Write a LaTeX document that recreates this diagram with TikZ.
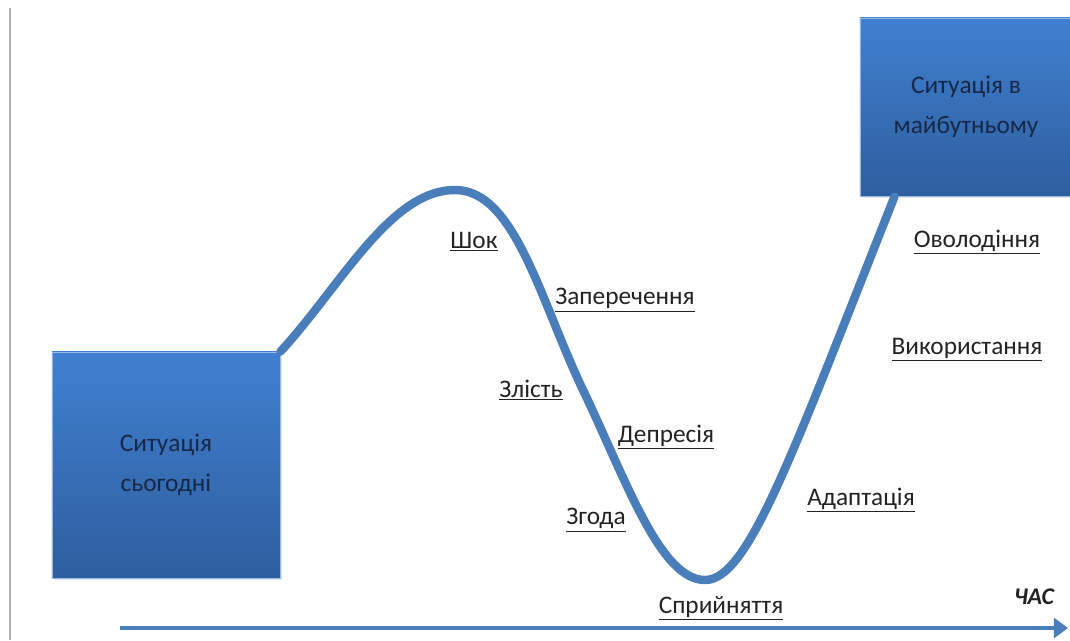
\documentclass[tikz,border=0pt]{standalone}
\usepackage{fontspec}
\setmainfont{Carlito}
\usetikzlibrary{arrows.meta,calc,shadows}
\definecolor{curveblue}{RGB}{74,126,187}
\definecolor{boxtop}{RGB}{64,128,208}
\definecolor{boxbottom}{RGB}{46,94,158}
\definecolor{boxtext}{RGB}{22,40,72}
\definecolor{lbltext}{RGB}{35,35,35}

\begin{document}
\begin{tikzpicture}[x=0.025cm, y=-0.025cm,
  sit/.style={shade, top color=boxtop, bottom color=boxbottom, draw=boxtop!55!white, line width=0.6pt,
    align=center, text=boxtext, font=\fontsize{18}{28}\selectfont,
    drop shadow={opacity=0.2, shadow xshift=1.2pt, shadow yshift=-1.5pt}},
  stage/.style={text=lbltext, font=\fontsize{18}{20}\selectfont, inner sep=0pt},
  wave/.style={curveblue, line width=6pt, line cap=round},
  timeline/.style={curveblue, line width=3pt, -{Triangle[length=10pt,width=14pt]}}
]
\useasboundingbox (0,0) rectangle (1070,640);
\draw[gray!60, line width=1.4pt] (10,8) -- (10,640);

\node[sit, minimum width=5.7cm, minimum height=5.65cm] (today)  at (166,465) {Ситуація\\сьогодні};
\node[sit, minimum width=5.3cm, minimum height=4.45cm] (future) at (966,107) {Ситуація в\\майбутньому};

\coordinate (peak)   at (455,190);
\coordinate (turn)   at (583,390);
\coordinate (trough) at (705,580);
\coordinate (arrive) at ($(future.south west)+(35,0)$);

\draw[wave] (today.north east) .. controls +(60,-65) and (390,190) .. (peak)
  .. controls (515,190) and (540,300) .. (turn)
  .. controls (626,480) and (660,580) .. (trough)
  .. controls (748,580) and (790,460) .. (arrive);

\coordinate (tstart) at (120,628);
\coordinate (tend)   at (1068,628);
\draw[timeline] (tstart) -- (tend);

\node[stage] (shock)   at (474,242) {\underline{Шок}};
\node[stage] (denial)  at (625,300) {\underline{Заперечення}};
\node[stage] (anger)   at (531,390) {\underline{Злість}};
\node[stage] (depr)    at (666,437) {\underline{Депресія}};
\node[stage] (bargain) at (596,520) {\underline{Згода}};
\node[stage] (accept)  at (721,608) {\underline{Сприйняття}};
\node[stage] (adapt)   at (861,500) {\underline{Адаптація}};
\node[stage] (master)  at (977,242) {\underline{Оволодіння}};
\node[stage] (use)     at (967,350) {\underline{Використання}};
\node[stage, font=\fontsize{17}{20}\selectfont\bfseries\itshape] (time) at (1034,597) {ЧАС};
\end{tikzpicture}
\end{document}
